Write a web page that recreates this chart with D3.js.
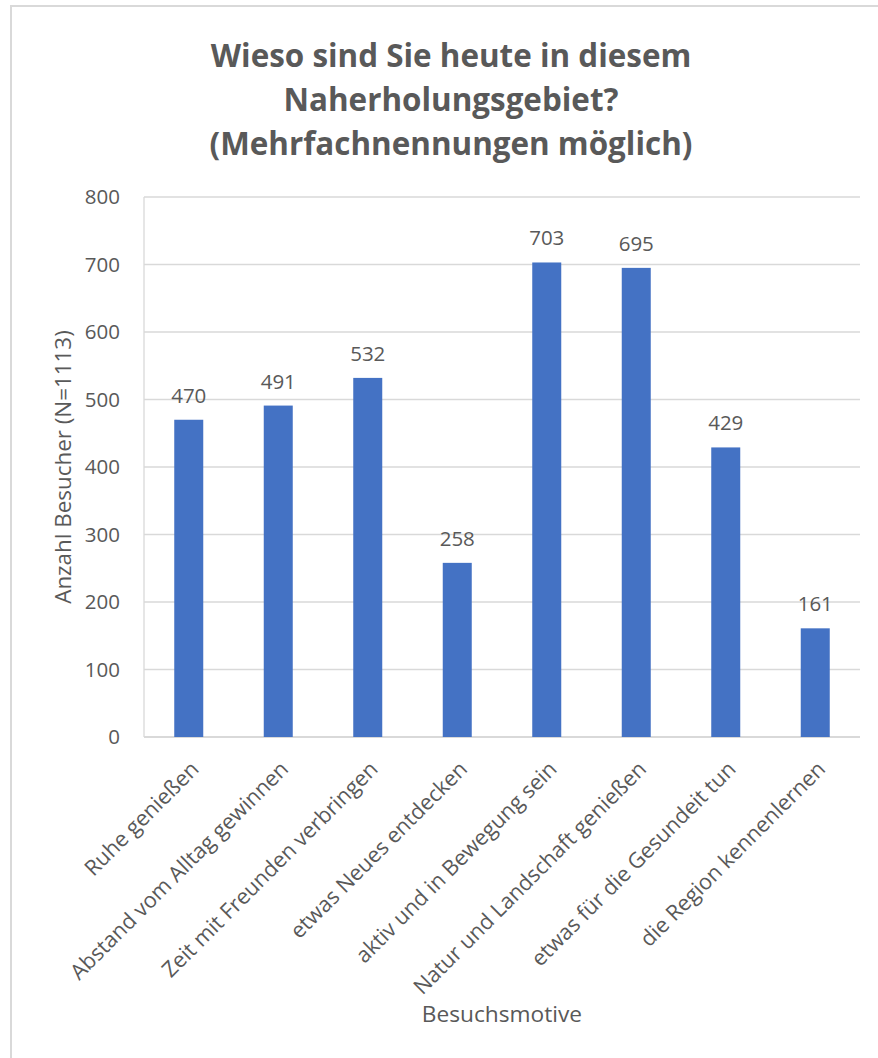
<!DOCTYPE html>
<html>
<head>
<meta charset="utf-8">
<script src="https://cdn.jsdelivr.net/npm/d3@7"></script>
<style>
  body { margin: 0; background: #fff; }
  text { font-family: "Open Sans", sans-serif; fill: #595959; }
</style>
</head>
<body>
<svg id="chart" width="878" height="1058"></svg>
<script>
// Besuchsmotive und Anzahl Nennungen
const categories = [
  'Ruhe genießen',
  'Abstand vom Alltag gewinnen',
  'Zeit mit Freunden verbringen',
  'etwas Neues entdecken',
  'aktiv und in Bewegung sein',
  'Natur und Landschaft genießen',
  'etwas für die Gesundeit tun',
  'die Region kennenlernen'
]
const counts = [470, 491, 532, 258, 703, 695, 429, 161]
const yTicks = [0, 100, 200, 300, 400, 500, 600, 700, 800]
const titleLines = [
  'Wieso sind Sie heute in diesem',
  'Naherholungsgebiet?',
  '(Mehrfachnennungen möglich)'
]

const svg = d3.select('#chart')
const margin = { left: 144, right: 18, top: 197, bottom: 321 }
const width = 878 - margin.left - margin.right
const height = 1058 - margin.top - margin.bottom

// outer chart frame (right and bottom edges fall outside the picture)
svg.append('rect')
  .attr('x', 11).attr('y', 6)
  .attr('width', 900).attr('height', 1100)
  .attr('fill', 'none')
  .attr('stroke', '#d9d9d9')
  .attr('stroke-width', 2)

const g = svg.append('g').attr('transform', `translate(${margin.left},${margin.top})`)

const x = d3.scaleBand().domain(categories).range([0, width]).paddingInner(0.676).paddingOuter(0.338)
const y = d3.scaleLinear().domain([0, 800]).range([height, 0])

// gridlines
g.selectAll('.grid')
  .data(yTicks)
  .enter()
  .append('line')
  .attr('class', 'grid')
  .attr('x1', 0).attr('x2', width)
  .attr('y1', d => y(d)).attr('y2', d => y(d))
  .attr('stroke', '#d9d9d9')
  .attr('stroke-width', d => d === 0 ? 2 : 1.3)

// y axis line
g.append('line')
  .attr('x1', 0).attr('x2', 0)
  .attr('y1', 0).attr('y2', height)
  .attr('stroke', '#d9d9d9')
  .attr('stroke-width', 1.3)

// y tick labels
const yAxis = g.append('g')
  .call(d3.axisLeft(y).tickValues(yTicks).tickSize(0).tickPadding(24))
yAxis.select('.domain').remove()
yAxis.selectAll('text')
  .style('font-size', '20.5px')
  .attr('fill', '#595959')

// bars
g.selectAll('.bar')
  .data(counts)
  .enter()
  .append('rect')
  .attr('class', 'bar')
  .attr('x', (d, i) => x(categories[i]))
  .attr('width', x.bandwidth())
  .attr('y', d => y(d))
  .attr('height', d => height - y(d))
  .attr('fill', '#4472c4')

// value labels
g.selectAll('.value')
  .data(counts)
  .enter()
  .append('text')
  .attr('class', 'value')
  .attr('x', (d, i) => x(categories[i]) + x.bandwidth() / 2)
  .attr('y', d => y(d) - 17)
  .attr('text-anchor', 'middle')
  .style('font-size', '20.5px')
  .text(d => d)

// category labels, rotated
g.selectAll('.cat')
  .data(categories)
  .enter()
  .append('text')
  .attr('class', 'cat')
  .attr('transform', d => `translate(${x(d) + x.bandwidth() / 2},${height + 22}) rotate(-45)`)
  .attr('text-anchor', 'end')
  .attr('dy', '0.75em')
  .style('font-size', '21.6px')
  .text(d => d)

// axis titles
svg.append('text')
  .attr('transform', `translate(71,${margin.top + height / 2}) rotate(-90)`)
  .attr('text-anchor', 'middle')
  .style('font-size', '22.4px')
  .text('Anzahl Besucher (N=1113)')

svg.append('text')
  .attr('x', 502).attr('y', 1022)
  .attr('text-anchor', 'middle')
  .style('font-size', '22.7px')
  .text('Besuchsmotive')

// title
svg.append('g')
  .selectAll('text')
  .data(titleLines)
  .enter()
  .append('text')
  .attr('x', 451)
  .attr('y', (d, i) => 67 + i * 44)
  .attr('text-anchor', 'middle')
  .style('font-size', '31.4px')
  .style('font-weight', 'bold')
  .text(d => d)
</script>
</body>
</html>
